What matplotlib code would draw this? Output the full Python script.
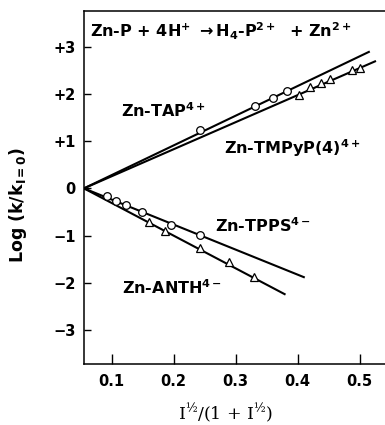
import matplotlib
matplotlib.use("Agg")
import matplotlib.pyplot as plt

plt.rcParams['mathtext.fontset'] = 'dejavusans'
plt.rcParams['mathtext.default'] = 'bf'

# x = I^1/2 / (1 + I^1/2), y = log(k/k0)
x0 = 0.055

tap_x = [0.243, 0.331, 0.360, 0.383]
tap_y = [1.24, 1.74, 1.91, 2.07]
tap_end = (0.515, 2.89)

tmpyp_x = [0.402, 0.420, 0.437, 0.452, 0.488, 0.500]
tmpyp_y = [1.98, 2.14, 2.24, 2.32, 2.50, 2.55]
tmpyp_end = (0.525, 2.69)

tpps_x = [0.093, 0.106, 0.123, 0.148, 0.196, 0.242]
tpps_y = [-0.165, -0.265, -0.35, -0.50, -0.77, -0.99]
tpps_end = (0.410, -1.88)

anth_x = [0.160, 0.186, 0.243, 0.290, 0.330]
anth_y = [-0.71, -0.90, -1.27, -1.57, -1.88]
anth_end = (0.379, -2.24)

xticks = [0.1, 0.2, 0.3, 0.4, 0.5]
yticks = [3, 2, 1, 0, -1, -2, -3]
ytick_labels = ['+3', '+2', '+1', '0', '\u22121', '\u22122', '\u22123']

fig = plt.figure(figsize=(3.85, 4.25), dpi=100)
ax = fig.add_axes([0.218, 0.1435, 0.81, 0.831])

for end in [tap_end, tmpyp_end, tpps_end, anth_end]:
    ax.plot([x0, end[0]], [0, end[1]], color='black', lw=1.5, zorder=2)

ax.plot(tap_x, tap_y, 'o', ms=5.5, mfc='white', mec='black', mew=0.9, zorder=3)
ax.plot(tpps_x, tpps_y, 'o', ms=5.5, mfc='white', mec='black', mew=0.9, zorder=3)
ax.plot(tmpyp_x, tmpyp_y, '^', ms=6, mfc='white', mec='black', mew=0.9, zorder=3)
ax.plot(anth_x, anth_y, '^', ms=6, mfc='white', mec='black', mew=0.9, zorder=3)

ax.set_xlim(x0, 0.5585)
ax.set_ylim(-3.72, 3.76)

ax.set_xticks(xticks)
ax.set_xticklabels([f'{t:.1f}' for t in xticks])
ax.set_yticks(yticks)
ax.set_yticklabels(ytick_labels)
ax.tick_params(axis='x', direction='in', length=7, width=1, pad=7, labelsize=10.5)
ax.tick_params(axis='y', direction='in', length=5, width=1, pad=6, labelsize=10.5)
for lab in ax.get_xticklabels() + ax.get_yticklabels():
    lab.set_fontweight('bold')

ax.spines['right'].set_visible(False)
for s in ['left', 'bottom', 'top']:
    ax.spines[s].set_linewidth(1.1)

ax.set_ylabel(r'Log (k/k$_{\mathbf{I=0}}$)', fontsize=12.5, fontweight='bold')
ax.yaxis.set_label_coords(-0.175, 0.45)
ax.set_xlabel('I$\\mathregular{^{½}}$/(1 + I$\\mathregular{^{½}}$)',
              fontsize=12.5, family='DejaVu Serif')
ax.xaxis.set_label_coords(0.455, -0.105)

txt = dict(fontsize=11.5, fontweight='bold', transform=ax.transData, va='baseline')
ax.text(0.065, 3.19, r'Zn-P + 4H$^{+}$ $\rightarrow$H$_{4}$-P$^{2+}$  + Zn$^{2+}$', **txt)
ax.text(0.115, 1.52, r'Zn-TAP$^{4+}$', **txt)
ax.text(0.281, 0.73, r'Zn-TMPyP(4)$^{4+}$', **txt)
ax.text(0.267, -0.93, r'Zn-TPPS$^{4-}$', **txt)
ax.text(0.116, -2.24, r'Zn-ANTH$^{4-}$', **txt)

plt.savefig('out.png', dpi=100)
